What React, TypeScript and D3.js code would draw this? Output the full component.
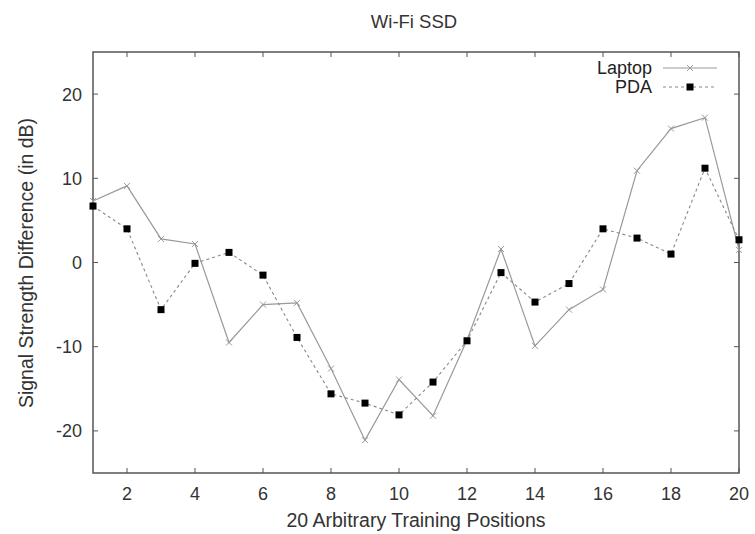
import React from "react";
import * as d3 from "d3";

const positions = [1, 2, 3, 4, 5, 6, 7, 8, 9, 10, 11, 12, 13, 14, 15, 16, 17, 18, 19, 20];
const laptop = [7.3, 9.1, 2.8, 2.2, -9.5, -5.0, -4.8, -12.6, -21.1, -13.9, -18.2, -9.2, 1.6, -9.9, -5.6, -3.2, 10.9, 15.9, 17.2, 1.5];
const pda = [6.7, 4.0, -5.6, -0.1, 1.2, -1.5, -8.9, -15.6, -16.7, -18.1, -14.2, -9.3, -1.2, -4.7, -2.5, 4.0, 2.9, 1.0, 11.2, 2.7];
const xTicks = [2, 4, 6, 8, 10, 12, 14, 16, 18, 20];
const yTicks = [-20, -10, 0, 10, 20];

export default function App() {
  const W = 755, H = 534;
  const L = 93, R = 739, T = 52, B = 473;
  const x = d3.scaleLinear().domain([1, 20]).range([L, R]);
  const y = d3.scaleLinear().domain([-25, 25]).range([B, T]);
  const line = d3.line<number>().x((_, i) => x(positions[i])).y((d) => y(d));
  const font = "'Liberation Sans', Arial, sans-serif";
  const axisCol = "#555";
  const textCol = "#333";
  const tick = 5;
  const cross = (cx: number, cy: number, s: number, key: string | number) => (
    <path key={key} d={`M${cx - s},${cy - s}L${cx + s},${cy + s}M${cx - s},${cy + s}L${cx + s},${cy - s}`} stroke="#999" strokeWidth={1} fill="none" />
  );
  return (
    <svg width={W} height={H} style={{ position: "absolute", left: 0, top: 0, background: "#fff" }} fontFamily={font}>
      <text x={414} y={28} textAnchor="middle" fontSize={18.5} fill={textCol}>Wi-Fi SSD</text>
      {/* ticks */}
      {xTicks.map((t) => (
        <g key={"x" + t}>
          <line x1={x(t)} x2={x(t)} y1={B} y2={B - tick} stroke={axisCol} />
          <line x1={x(t)} x2={x(t)} y1={T} y2={T + tick} stroke={axisCol} />
          <text x={x(t)} y={500} textAnchor="middle" fontSize={18} fill={textCol}>{t}</text>
        </g>
      ))}
      {yTicks.map((t) => (
        <g key={"y" + t}>
          <line x1={L} x2={L + tick} y1={y(t)} y2={y(t)} stroke={axisCol} />
          <line x1={R} x2={R - tick} y1={y(t)} y2={y(t)} stroke={axisCol} />
          <text x={L - 11} y={y(t) + 6.5} textAnchor="end" fontSize={18} fill={textCol}>{t}</text>
        </g>
      ))}
      <rect x={L} y={T} width={R - L} height={B - T} fill="none" stroke={axisCol} strokeWidth={1.5} />
      <text x={416} y={527} textAnchor="middle" fontSize={19.5} fill={textCol}>20 Arbitrary Training Positions</text>
      <text transform={`translate(33,263) rotate(-90)`} textAnchor="middle" fontSize={19.5} fill={textCol}>Signal Strength Difference (in dB)</text>
      {/* series */}
      <path d={line(laptop) || ""} fill="none" stroke="#999" strokeWidth={1.2} />
      {laptop.map((v, i) => cross(x(positions[i]), y(v), 3, "l" + i))}
      <path d={line(pda) || ""} fill="none" stroke="#888" strokeWidth={1.1} strokeDasharray="3,3" />
      {pda.map((v, i) => (
        <rect key={"p" + i} x={x(positions[i]) - 3.5} y={y(v) - 3.5} width={7} height={7} fill="#000" />
      ))}
      {/* legend */}
      <text x={652} y={74} textAnchor="end" fontSize={18} fill="#222">Laptop</text>
      <line x1={663} x2={717} y1={68} y2={68} stroke="#999" strokeWidth={1.2} />
      {cross(690, 68, 3, "lg")}
      <text x={652} y={93} textAnchor="end" fontSize={18} fill="#222">PDA</text>
      <line x1={663} x2={717} y1={87} y2={87} stroke="#888" strokeWidth={1.1} strokeDasharray="3,3" />
      <rect x={686.5} y={83.5} width={7} height={7} fill="#000" />
    </svg>
  );
}
